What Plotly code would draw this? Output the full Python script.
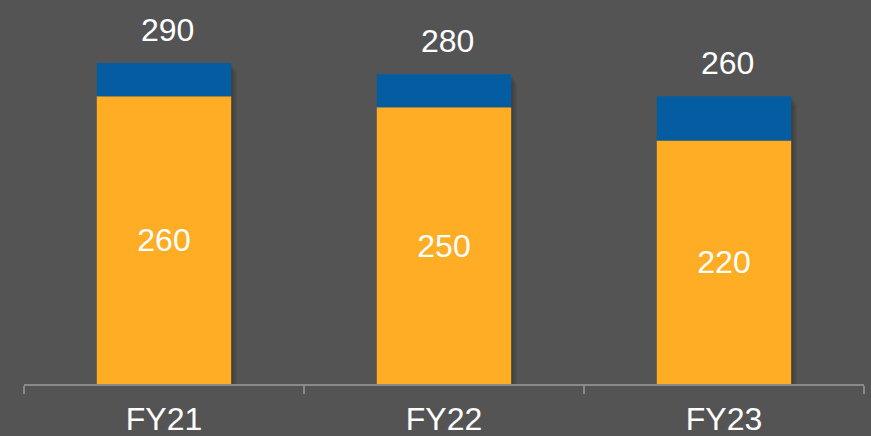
import plotly.graph_objects as go

categories = ["FY21", "FY22", "FY23"]
base_values = [260, 250, 220]
top_values = [30, 30, 40]
totals = [290, 280, 260]

BG = "#545454"
ORANGE = "#FFAD25"
BLUE = "#045DA0"
FONT = "Liberation Sans, Arial, sans-serif"
BAR_W = 0.48
FS = 32

fig = go.Figure()

# soft drop shadow (drawn on the base axes, underneath)
for k, (dx, alpha) in enumerate([(0.006, 0.10), (0.013, 0.09), (0.020, 0.07)]):
    fig.add_trace(go.Bar(
        x=categories, y=[t - 2.5 * (k + 1) for t in totals],
        width=BAR_W, offset=-BAR_W / 2 + dx,
        marker=dict(color=f"rgba(0,0,0,{alpha})", line=dict(width=0)),
        hoverinfo="skip", xaxis="x", yaxis="y"))

fig.add_trace(go.Bar(
    x=categories, y=base_values, marker=dict(color=ORANGE, line=dict(width=0)),
    text=[str(v) for v in base_values], textposition="inside",
    insidetextanchor="middle", textfont=dict(color="white", size=FS, family=FONT),
    width=BAR_W, hoverinfo="skip", xaxis="x2", yaxis="y2"))
fig.add_trace(go.Bar(
    x=categories, y=top_values, base=base_values,
    marker=dict(color=BLUE, line=dict(width=0)),
    width=BAR_W, hoverinfo="skip", xaxis="x2", yaxis="y2"))

for c, t in zip(categories, totals):
    fig.add_annotation(x=c, y=t, xref="x2", yref="y2", text=str(t), showarrow=False,
                       yanchor="middle", yshift=33, xshift=3,
                       font=dict(color="white", size=FS, family=FONT))

fig.update_layout(
    barmode="overlay", width=871, height=436, showlegend=False,
    paper_bgcolor=BG, plot_bgcolor=BG,
    margin=dict(l=24, r=7, t=0, b=52, autoexpand=False),
    font=dict(family=FONT, color="white"),
    xaxis=dict(showline=True, linecolor="#8A8A8A", linewidth=2, automargin=False,
               ticks="outside", tickcolor="#8A8A8A", ticklen=8, tickwidth=2,
               tickson="boundaries", showgrid=False, ticklabelstandoff=6,
               tickfont=dict(size=FS, color="white", family=FONT)),
    yaxis=dict(range=[0, 347], visible=False, showgrid=False, zeroline=False),
    xaxis2=dict(overlaying="x", matches="x", visible=False),
    yaxis2=dict(overlaying="y", matches="y", visible=False),
)

fig.write_html("out.html", config={"displayModeBar": False},
               post_script="document.body.style.margin='0';")
